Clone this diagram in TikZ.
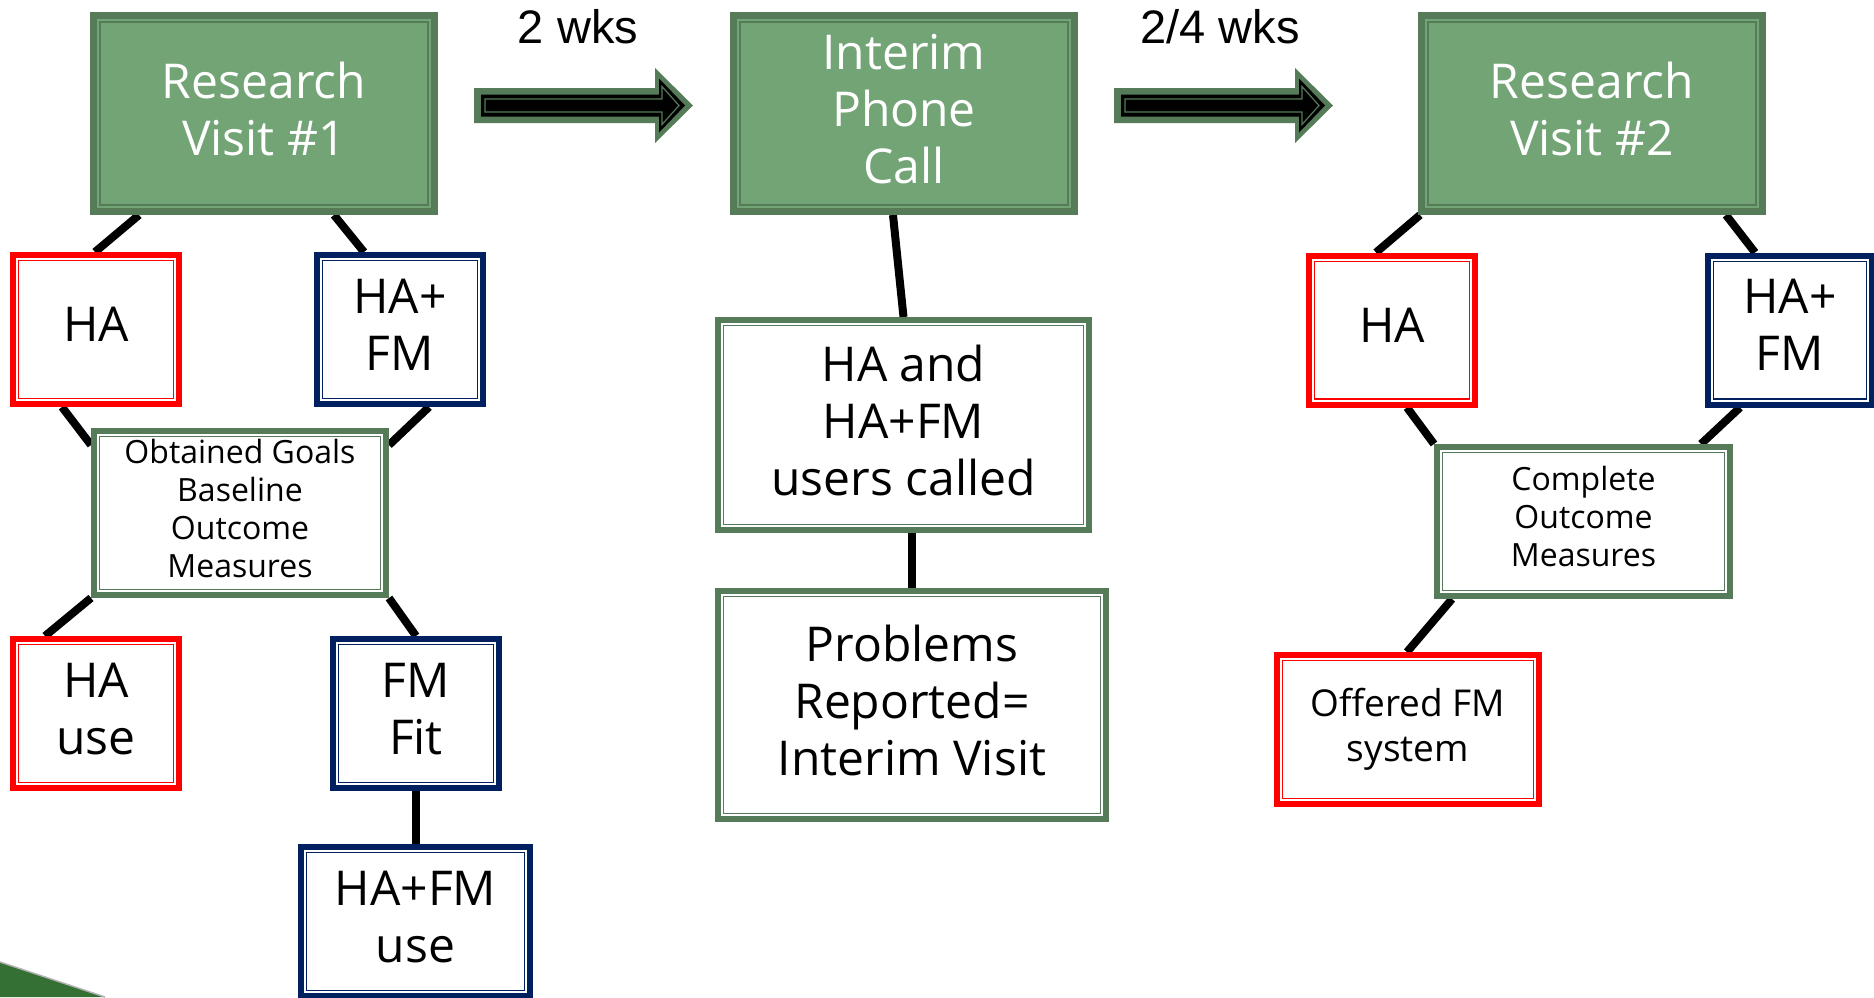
\documentclass[tikz,border=0pt]{standalone}
\usepackage{fontspec}
\setmainfont{Open Sans}
\newfontfamily\arialfont{Liberation Sans}
\usetikzlibrary{backgrounds}
\definecolor{gborder}{RGB}{85,123,88}
\definecolor{gfill}{RGB}{114,164,118}
\definecolor{myred}{RGB}{255,0,0}
\definecolor{navy}{RGB}{0,32,96}
\definecolor{wedge}{RGB}{52,112,52}
\tikzset{
  basebox/.style={rectangle, inner sep=0pt, align=center, font=\fontsize{48}{57}\selectfont,
    execute at end node={\rule[-10pt]{0pt}{10pt}}},
  wbox/.style={basebox, fill=white, draw=#1, line width=6pt,
    path picture={\draw[#1, line width=1.4pt] ([xshift=5.7pt,yshift=5.7pt]path picture bounding box.south west) rectangle ([xshift=-5.7pt,yshift=-5.7pt]path picture bounding box.north east);}},
  gbox/.style={basebox, fill=gfill, draw=gborder, line width=7pt, text=white,
    path picture={\draw[gborder, line width=2.5pt] ([xshift=6.5pt,yshift=6.5pt]path picture bounding box.south west) rectangle ([xshift=-6.5pt,yshift=-6.5pt]path picture bounding box.north east);}},
  smalltext/.style={font=\fontsize{32}{38}\selectfont},
  midtext/.style={font=\fontsize{37}{45}\selectfont},
  link/.style={line width=8pt, black},
  wks/.style={font=\arialfont\fontsize{47}{56}\selectfont, anchor=base, inner sep=0pt}
}
\newcommand\fatarrow[1]{%
  \begin{scope}[shift={#1}]
    \fill[gborder] (0,-17.5) -- (181,-17.5) -- (181,-37.5) -- (219,0) -- (181,37.5) -- (181,17.5) -- (0,17.5) -- cycle;
    \fill[black] (7,-11) -- (185,-11) -- (185,-27) -- (211,0) -- (185,27) -- (185,11) -- (7,11) -- cycle;
    \draw[gborder, line width=1.2pt] (11,-6.5) -- (188,-6.5) -- (188,-19) -- (205,0) -- (188,19) -- (188,6.5) -- (11,6.5) -- cycle;
  \end{scope}}
\begin{document}
\begin{tikzpicture}[x=1pt, y=-1pt]
\useasboundingbox (0,0) rectangle (1874,997);
% top row
\node[gbox, minimum width=341pt, minimum height=196pt] (rv1) at (264,113.5) {Research\\Visit \#1};
\node[gbox, minimum width=341pt, minimum height=196pt] (interim) at (904,113.5) {Interim\\Phone\\Call};
\node[gbox, minimum width=341pt, minimum height=196pt] (rv2) at (1592,113.5) {Research\\Visit \#2};
\node[wks] (w1) at (578,43) {2 wks};
\node[wks] (w2) at (1220,43) {2/4 wks};
\fatarrow{(474,105.5)}
\fatarrow{(1114,105.5)}
% left column
\node[wbox=myred, minimum width=166pt, minimum height=149pt] (ha1) at (96,329.5) {HA};
\node[wbox=navy, minimum width=166pt, minimum height=149pt] (hafm1) at (400,329.5) {HA+\\FM};
\node[wbox=gborder, smalltext, minimum width=292pt, minimum height=164pt] (obt) at (240,513) {Obtained Goals\\Baseline\\Outcome\\Measures};
\node[wbox=myred, minimum width=166pt, minimum height=149pt] (hause) at (96,713.5) {HA\\use};
\node[wbox=navy, minimum width=166pt, minimum height=149pt] (fmfit) at (416,713.5) {FM\\Fit};
\node[wbox=navy, minimum width=229pt, minimum height=149pt] (hafmuse) at (415.5,921.5) {HA+FM\\use};
% middle column
\node[wbox=gborder, minimum width=371pt, minimum height=210pt] (users) at (903.5,425) {HA and\\HA+FM\\users called};
\node[wbox=gborder, minimum width=388pt, minimum height=228pt] (problems) at (912,705) {Problems\\Reported=\\Interim Visit};
% right column
\node[wbox=myred, minimum width=166pt, minimum height=149pt] (ha2) at (1392,330) {HA};
\node[wbox=navy, minimum width=164pt, minimum height=149pt] (hafm2) at (1790,330) {HA+\\FM};
\node[wbox=gborder, smalltext, minimum width=293pt, minimum height=149pt] (comp) at (1583.5,521.5) {Complete\\Outcome\\Measures};
\node[wbox=myred, midtext, minimum width=262pt, minimum height=149pt] (offered) at (1408,729.5) {Offered FM\\system};
\begin{scope}[on background layer]
  \fill[wedge] (0,962) -- (105,997) -- (0,997) -- cycle;
  \draw[gray!60, line width=1.5pt] (0,962) -- (105,997);
  \draw[link] ([xshift=49pt]rv1.south west) -- ([xshift=85pt]ha1.north west);
  \draw[link] ([xshift=244pt]rv1.south west) -- ([xshift=50pt]hafm1.north west);
  \draw[link] ([xshift=52pt]ha1.south west) -- ([yshift=-17pt]obt.north west);
  \draw[link] ([xshift=115pt]hafm1.south west) -- ([yshift=-17pt]obt.north east);
  \draw[link] (obt.south west) -- ([xshift=35pt]hause.north west);
  \draw[link] (obt.south east) -- (fmfit.north);
  \draw[link] (fmfit.south) -- (fmfit.south |- hafmuse.north);
  \draw[link] ([xshift=163pt]interim.south west) -- (users.north);
  \draw[link] (problems.north |- users.south) -- (problems.north);
  \draw[link] ([xshift=2pt]rv2.south west) -- ([xshift=70pt]ha2.north west);
  \draw[link] ([xshift=308pt]rv2.south west) -- ([xshift=50pt]hafm2.north west);
  \draw[link] ([xshift=101pt]ha2.south west) -- (comp.north west);
  \draw[link] ([xshift=35pt]hafm2.south west) -- ([xshift=-32pt]comp.north east);
  \draw[link] ([xshift=18pt]comp.south west) -- ([xshift=133pt]offered.north west);
\end{scope}
\end{tikzpicture}
\end{document}
